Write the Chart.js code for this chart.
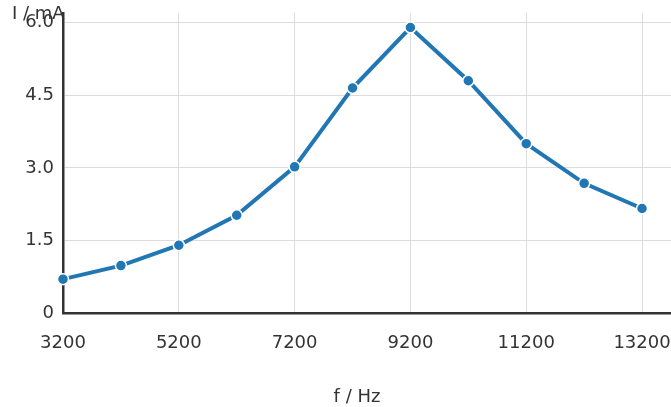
<!DOCTYPE html>
<html>
<head>
<meta charset="utf-8">
<script src="https://cdn.jsdelivr.net/npm/chart.js@4/dist/chart.umd.min.js"></script>
<style>
  html, body { margin: 0; padding: 0; background: #fff; overflow: hidden; }
  #wrap { width: 671px; height: 407px; position: relative; }
  canvas { display: block; }
</style>
</head>
<body>
<div id="wrap"><canvas id="c"></canvas></div>
<script>
// ---- data ----
const frequencies = [3200, 4200, 5200, 6200, 7200, 8200, 9200, 10200, 11200, 12200, 13200];
const currents    = [0.70, 0.98, 1.40, 2.02, 3.02, 4.65, 5.90, 4.80, 3.50, 2.68, 2.16];
const xTickValues = [3200, 5200, 7200, 9200, 11200, 13200];
const yTickValues = [0, 1.5, 3.0, 4.5, 6.0];
const xTitle = 'f / Hz';
const yTitle = 'I / mA';

const FONT = '"DejaVu Sans", sans-serif';
const TEXT = '#333';

const axisTitles = {
  id: 'axisTitles',
  afterDraw(chart) {
    const ctx = chart.ctx;
    const a = chart.chartArea;
    ctx.save();
    ctx.fillStyle = TEXT;
    ctx.font = '18px ' + FONT;
    ctx.textBaseline = 'middle';
    ctx.textAlign = 'center';
    ctx.fillText(xTitle, (a.left + a.right) / 2 - 10, chart.height - 10);
    ctx.textAlign = 'left';
    ctx.fillText(yTitle, 12, 14);
    ctx.restore();
  }
};

new Chart(document.getElementById('c'), {
  type: 'line',
  data: {
    datasets: [{
      data: frequencies.map((f, i) => ({ x: f, y: currents[i] })),
      borderColor: '#2176b4',
      backgroundColor: '#2176b4',
      borderWidth: 4,
      pointRadius: 5.5,
      pointBorderColor: '#fff',
      pointBorderWidth: 1.5,
      pointBackgroundColor: '#2176b4',
      tension: 0,
      clip: false
    }]
  },
  options: {
    responsive: true,
    maintainAspectRatio: false,
    animation: false,
    layout: { autoPadding: false, padding: { top: 13, right: 0, bottom: 0, left: 0 } },
    plugins: { legend: { display: false }, tooltip: { enabled: false } },
    scales: {
      x: {
        type: 'linear',
        min: 3200,
        max: 13700,
        afterBuildTicks: s => { s.ticks = xTickValues.map(v => ({ value: v })); },
        afterFit: s => { s.height = 94; s.paddingLeft = 0; s.paddingRight = 0; },
        grid: { color: '#dcdcdc', lineWidth: 1, drawTicks: false },
        border: { color: '#333', width: 2.5 },
        ticks: { color: TEXT, font: { family: FONT, size: 18 }, padding: 20, maxRotation: 0,
                 callback: v => String(v) }
      },
      y: {
        type: 'linear',
        min: 0,
        max: 6.2,
        afterBuildTicks: s => { s.ticks = yTickValues.map(v => ({ value: v })); },
        afterFit: s => { s.width = 63; s.paddingTop = 0; s.paddingBottom = 0; },
        grid: { color: '#dcdcdc', lineWidth: 1, drawTicks: false },
        border: { color: '#333', width: 2.5 },
        ticks: { color: TEXT, font: { family: FONT, size: 18 }, padding: 9,
                 callback: v => v === 0 ? '0' : v.toFixed(1) }
      }
    }
  },
  plugins: [axisTitles]
});
</script>
</body>
</html>
